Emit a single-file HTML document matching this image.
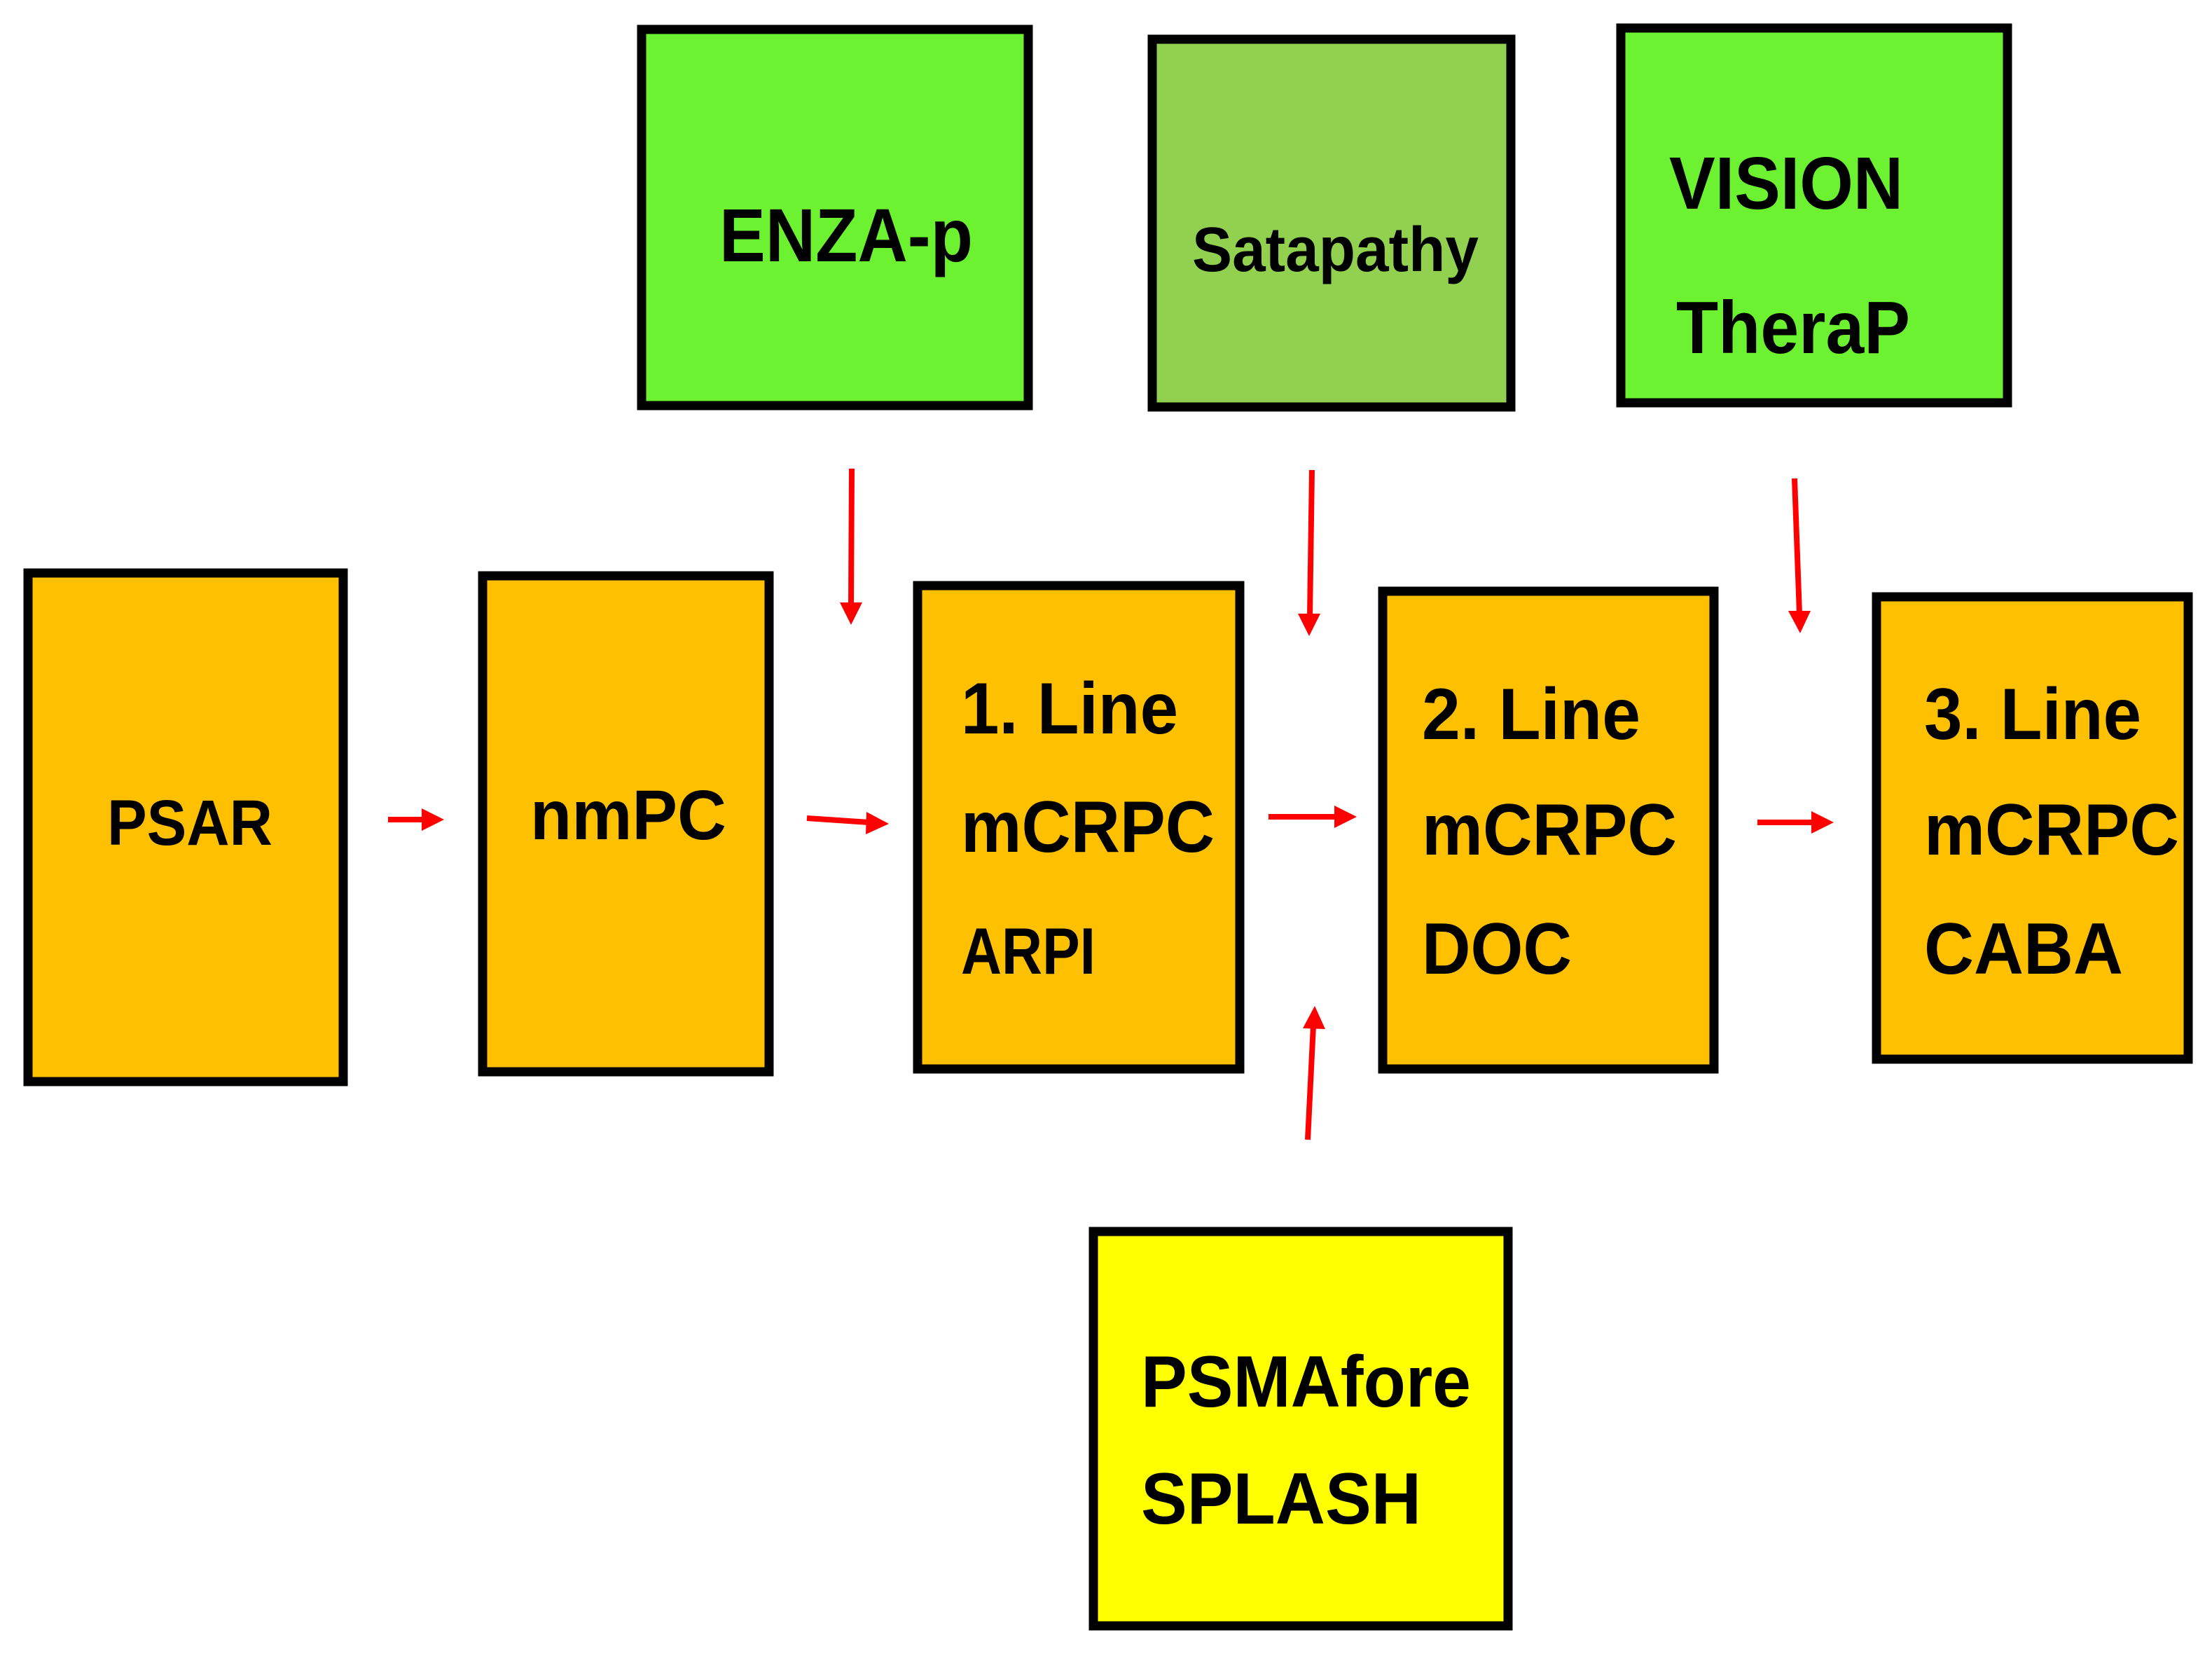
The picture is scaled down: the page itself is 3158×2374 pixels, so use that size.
<!DOCTYPE html>
<html><head><meta charset="utf-8"><style>
html,body{margin:0;padding:0;background:#fff;}
svg{display:block;}
text{font-family:"Liberation Sans",Arial,sans-serif;font-weight:bold;fill:#000;}
</style></head><body>
<svg width="3158" height="2374" viewBox="0 0 3158 2374" xmlns="http://www.w3.org/2000/svg">
<g stroke="#000" stroke-width="13">
<rect x="40" y="818" width="450" height="726" fill="#FFC000"/>
<rect x="689" y="822" width="409" height="708" fill="#FFC000"/>
<rect x="1310" y="836" width="460" height="690" fill="#FFC000"/>
<rect x="1974" y="844" width="473" height="682" fill="#FFC000"/>
<rect x="2679" y="852" width="445" height="660" fill="#FFC000"/>
<rect x="916" y="42" width="552" height="537" fill="#6CF231"/>
<rect x="1645" y="56" width="512" height="525" fill="#92D050"/>
<rect x="2314" y="40" width="552" height="535" fill="#6CF231"/>
<rect x="1561" y="1758" width="592" height="563" fill="#FFFF00"/>
</g>
<text x="153" y="1206" font-size="92" textLength="236" lengthAdjust="spacingAndGlyphs">PSAR</text>
<text x="757" y="1198" font-size="100" textLength="280" lengthAdjust="spacingAndGlyphs">nmPC</text>
<text x="1027" y="373" font-size="108" textLength="362" lengthAdjust="spacingAndGlyphs">ENZA-p</text>
<text x="1702" y="387" font-size="90" textLength="409" lengthAdjust="spacingAndGlyphs">Satapathy</text>
<text x="2383" y="298" font-size="106" textLength="334" lengthAdjust="spacingAndGlyphs">VISION</text>
<text x="2393" y="504" font-size="106" textLength="334" lengthAdjust="spacingAndGlyphs">TheraP</text>
<text x="1372" y="1047" font-size="104" textLength="310" lengthAdjust="spacingAndGlyphs">1. Line</text>
<text x="1372" y="1216" font-size="104" textLength="362" lengthAdjust="spacingAndGlyphs">mCRPC</text>
<text x="1372" y="1390" font-size="94" textLength="192" lengthAdjust="spacingAndGlyphs">ARPI</text>
<text x="2030" y="1055" font-size="104" textLength="312" lengthAdjust="spacingAndGlyphs">2. Line</text>
<text x="2030" y="1220" font-size="104" textLength="364" lengthAdjust="spacingAndGlyphs">mCRPC</text>
<text x="2030" y="1390" font-size="104" textLength="214" lengthAdjust="spacingAndGlyphs">DOC</text>
<text x="2747" y="1055" font-size="104" textLength="310" lengthAdjust="spacingAndGlyphs">3. Line</text>
<text x="2747" y="1220" font-size="104" textLength="364" lengthAdjust="spacingAndGlyphs">mCRPC</text>
<text x="2747" y="1390" font-size="104" textLength="284" lengthAdjust="spacingAndGlyphs">CABA</text>
<text x="1629" y="2008" font-size="104" textLength="471" lengthAdjust="spacingAndGlyphs">PSMAfore</text>
<text x="1629" y="2175" font-size="104" textLength="400" lengthAdjust="spacingAndGlyphs">SPLASH</text>
<g stroke="#FF0000" stroke-width="8" fill="none">
<line x1="554" y1="1170" x2="606" y2="1170"/>
<line x1="1152" y1="1168" x2="1241" y2="1174"/>
<line x1="1811" y1="1166" x2="1909" y2="1166"/>
<line x1="2509" y1="1174" x2="2590" y2="1174"/>
<line x1="1216" y1="669" x2="1215" y2="864"/>
<line x1="1873" y1="671" x2="1870" y2="880"/>
<line x1="2562" y1="683" x2="2569" y2="876"/>
<line x1="1867" y1="1627" x2="1875" y2="1464"/>
</g>
<g fill="#FF0000">
<polygon points="634,1170 602,1154 602,1186"/>
<polygon points="1269,1176 1237,1159 1236,1191"/>
<polygon points="1937,1166 1905,1150 1905,1182"/>
<polygon points="2618,1174 2586,1158 2586,1190"/>
<polygon points="1215,892 1199,860 1231,860"/>
<polygon points="1869,908 1853,876 1885,876"/>
<polygon points="2570,904 2553,872 2585,872"/>
<polygon points="1877,1436 1860,1468 1892,1469"/>
</g>
</svg>
</body></html>
